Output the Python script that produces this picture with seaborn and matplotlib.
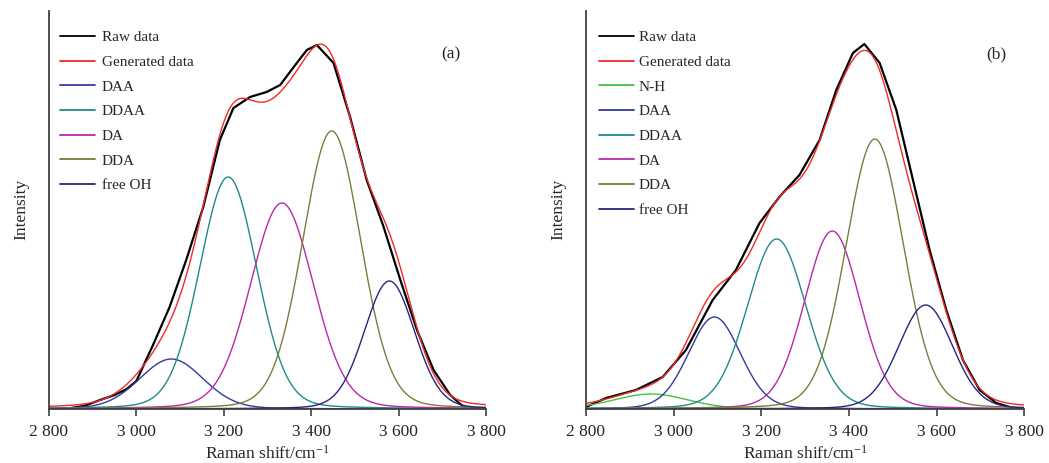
import numpy as np
import pandas as pd
import matplotlib
matplotlib.use("Agg")
import matplotlib.pyplot as plt
from matplotlib.ticker import FuncFormatter
import seaborn as sns

sns.set_theme(style="white")
plt.rcParams['font.family'] = ['Liberation Serif', 'DejaVu Serif']
plt.rcParams['mathtext.fontset'] = 'custom'
plt.rcParams['mathtext.rm'] = 'Liberation Serif'
plt.rcParams['mathtext.it'] = 'Liberation Serif:italic'

# ---------------- data (intensity in arbitrary units) ----------------
# panel (a): raw spectrum
raw_a_x = [2850, 2880, 2917, 2950, 2978, 3000, 3038, 3076, 3114, 3153, 3191, 3222,
           3260, 3298, 3329, 3360, 3390, 3413, 3451, 3489, 3527, 3565, 3604, 3642,
           3680, 3718, 3749, 3780]
raw_a_y = [1, 3, 9, 14, 20, 28, 64, 102, 149, 202, 269, 301,
           312, 317, 324, 342, 359, 364, 346, 292, 229, 183, 129, 79,
           39, 14, 2, 0]
# fitted bands: centre, peak height, FWHM (pseudo-Voigt)
comp_a_names = ["DAA", "DDAA", "DA", "DDA", "free OH"]
comp_a_center = [3080, 3210, 3333, 3447, 3579]
comp_a_height = [50, 232, 206, 278, 128]
comp_a_fwhm = [172, 155, 170, 157, 136]

# panel (b)
raw_b_x = [2800, 2846, 2914, 2975, 3028, 3089, 3142, 3196, 3241, 3287, 3333, 3371,
           3409, 3435, 3470, 3508, 3546, 3584, 3622, 3660, 3698, 3736, 3774, 3800]
raw_b_y = [2, 11, 19, 32, 59, 109, 139, 186, 212, 234, 269, 319,
           356, 365, 346, 299, 229, 159, 99, 49, 19, 6, 1, 0]
comp_b_names = ["N-H", "DAA", "DDAA", "DA", "DDA", "free OH"]
comp_b_center = [2948, 3093, 3235, 3362, 3459, 3575]
comp_b_height = [15, 92, 170, 178, 270, 104]
comp_b_fwhm = [200, 140, 158, 150, 155, 145]

lorentz_fraction = 0.12
x_ticks = [2800, 3000, 3200, 3400, 3600, 3800]

colors = {"N-H": "#45c045", "DAA": "#3339a0", "DDAA": "#1f8a8a", "DA": "#b52aa8",
          "DDA": "#7c7c3c", "free OH": "#262680"}

# ---------------- figure ----------------
W, H = 1049, 463
fig = plt.figure(figsize=(W / 100, H / 100), dpi=100)
ax_a = fig.add_axes([49 / W, 1 - 409 / H, (486 - 49) / W, (409 - 10.7) / H])
ax_b = fig.add_axes([586 / W, 1 - 409 / H, (1024.3 - 586) / W, (409 - 10.7) / H])

xf = np.linspace(2800, 3800, 1001)


def band(c, h, w):
    r = (xf - c) / w
    g = np.exp(-4 * np.log(2) * r ** 2)
    l = 1 / (1 + 4 * r ** 2)
    return h * ((1 - lorentz_fraction) * g + lorentz_fraction * l)


def draw(ax, rx, ry, names, cen, hei, fw, tag, tagx, legx, tpad):
    comps = [band(c, h, w) for c, h, w in zip(cen, hei, fw)]
    total = np.sum(comps, axis=0)
    sns.lineplot(x=rx, y=ry, ax=ax, color="black", linewidth=1.6, label="Raw data",
                 sort=False, estimator=None)
    sns.lineplot(x=xf, y=total, ax=ax, color="#f02a2a", linewidth=1.0,
                 label="Generated data", sort=False, estimator=None)
    for n, cy in zip(names, comps):
        sns.lineplot(x=xf, y=cy, ax=ax, color=colors[n], linewidth=1.0, label=n,
                     sort=False, estimator=None)
    ax.set_xlim(2800, 3800)
    ax.set_ylim(0, 398.3)
    ax.set_xticks(x_ticks)
    ax.xaxis.set_major_formatter(FuncFormatter(lambda v, p: f"{int(v):,}".replace(",", " ")))
    ax.set_yticks([])
    for s in ["top", "right"]:
        ax.spines[s].set_visible(False)
    for s in ["left", "bottom"]:
        ax.spines[s].set_color("#404040")
        ax.spines[s].set_linewidth(1.3)
    ax.tick_params(axis="x", direction="out", length=5, width=1.2, color="#404040",
                   labelsize=12.5, pad=5.5, bottom=True)
    ax.set_xlabel("Raman shift/cm$^{-1}$", fontsize=12.5, labelpad=4)
    ax.set_ylabel("Intensity", fontsize=12.5)
    ax.yaxis.set_label_coords(-0.045, 0.5)
    ax.text(tagx, 0.89, tag, transform=ax.transAxes, fontsize=12.5, ha="center", va="center")
    leg = ax.legend(loc="upper left", bbox_to_anchor=(legx, 0.95), frameon=False,
                    fontsize=11, handlelength=2.3, handletextpad=tpad, labelspacing=0.72,
                    borderpad=0, borderaxespad=0)
    for l in leg.get_lines():
        l.set_linewidth(1.3)


draw(ax_a, raw_a_x, raw_a_y, comp_a_names, comp_a_center, comp_a_height, comp_a_fwhm,
     "(a)", 0.92, 0.025, 0.45)
draw(ax_b, raw_b_x, raw_b_y, comp_b_names, comp_b_center, comp_b_height, comp_b_fwhm,
     "(b)", 0.937, 0.030, 0.28)

fig.savefig("out.png", dpi=100)
